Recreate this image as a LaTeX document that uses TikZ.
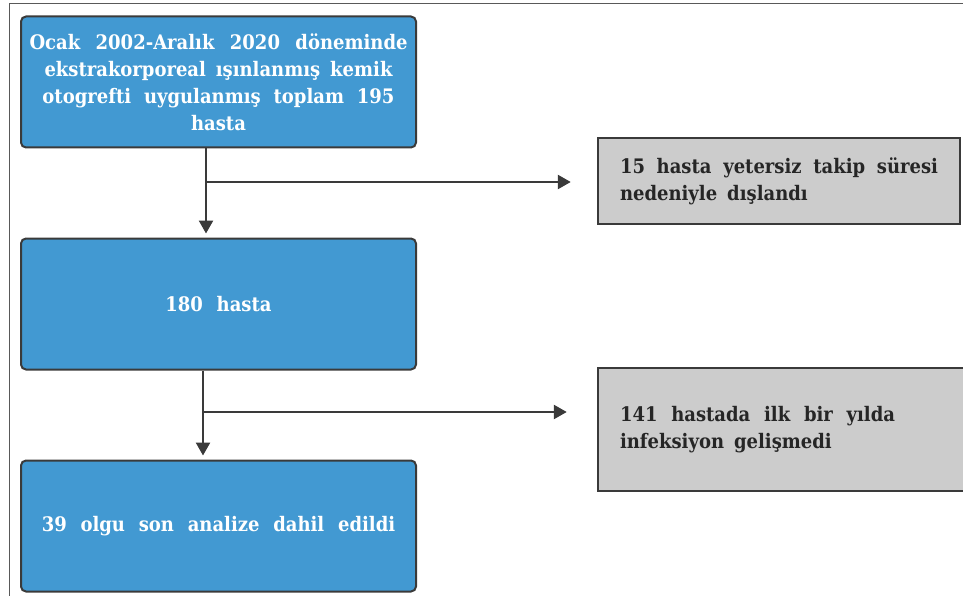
\documentclass[tikz,border=0pt]{standalone}
\usepackage{fontspec}
\setmainfont{DejaVu Serif Condensed}[WordSpace=2.2]
\usetikzlibrary{positioning,arrows.meta}

\definecolor{stepblue}{RGB}{66,153,210}
\definecolor{notegray}{RGB}{204,204,204}
\definecolor{linedark}{RGB}{58,58,58}

\newcommand{\fillline}[2]{\hbox to #1{\spaceskip=0.25em plus 1fill\relax #2}}

\tikzset{
  bluebox/.style={draw=linedark, line width=2pt, fill=stepblue, rounded corners=5pt,
    minimum width=395pt, minimum height=131pt, text=white, align=center, inner sep=0pt,
    font=\fontsize{20}{27}\selectfont\bfseries},
  graybox/.style={draw=linedark, line width=2.5pt, fill=notegray, inner xsep=22pt,
    text=black!85, align=left, font=\fontsize{20}{27}\selectfont\bfseries},
  flow/.style={draw=linedark, line width=2.5pt, -{Triangle[length=13pt,width=14pt]}}
}

\begin{document}
\begin{tikzpicture}[x=1pt,y=-1pt]
  \useasboundingbox (0,0) rectangle (963,596);
  % frame
  \draw[gray!70!black, line width=1pt] (9,596) -- (9,4) -- (963,4);

  \node[bluebox] (total) at (218.5,82) {%
    \fillline{378pt}{Ocak 2002-Aralık 2020 döneminde}\\
    \fillline{348pt}{ekstrakorporeal ışınlanmış kemik}\\
    \fillline{352pt}{otogrefti uygulanmış toplam 195}\\
    hasta};
  \node[bluebox, below=89pt of total] (remain) {180 hasta};
  \node[bluebox, below=89pt of remain] (final) {39 olgu son analize dahil edildi};

  \node[graybox, minimum width=362pt, minimum height=86pt, text width=318pt] (lost) at (779,181) {%
    \fillline{318pt}{15 hasta yetersiz takip süresi}\\
    nedeniyle\enspace dışlandı};
  \node[graybox, minimum width=382pt, minimum height=123pt, text width=338pt] (noinf) at (789,429.5) {%
    \fillline{275pt}{141 hastada ilk bir yılda}\\
    infeksiyon\enspace gelişmedi};

  \coordinate (split1) at (206,182);
  \coordinate (split2) at (203,412);

  \draw[flow, shorten >=4pt] (total.south -| split1) -- (remain.north -| split1);
  \draw[flow, shorten >=26pt] (split1) -- (split1 -| lost.west);
  \draw[flow, shorten >=4pt] (remain.south -| split2) -- (final.north -| split2);
  \draw[flow, shorten >=30pt] (split2) -- (split2 -| noinf.west);
\end{tikzpicture}
\end{document}
